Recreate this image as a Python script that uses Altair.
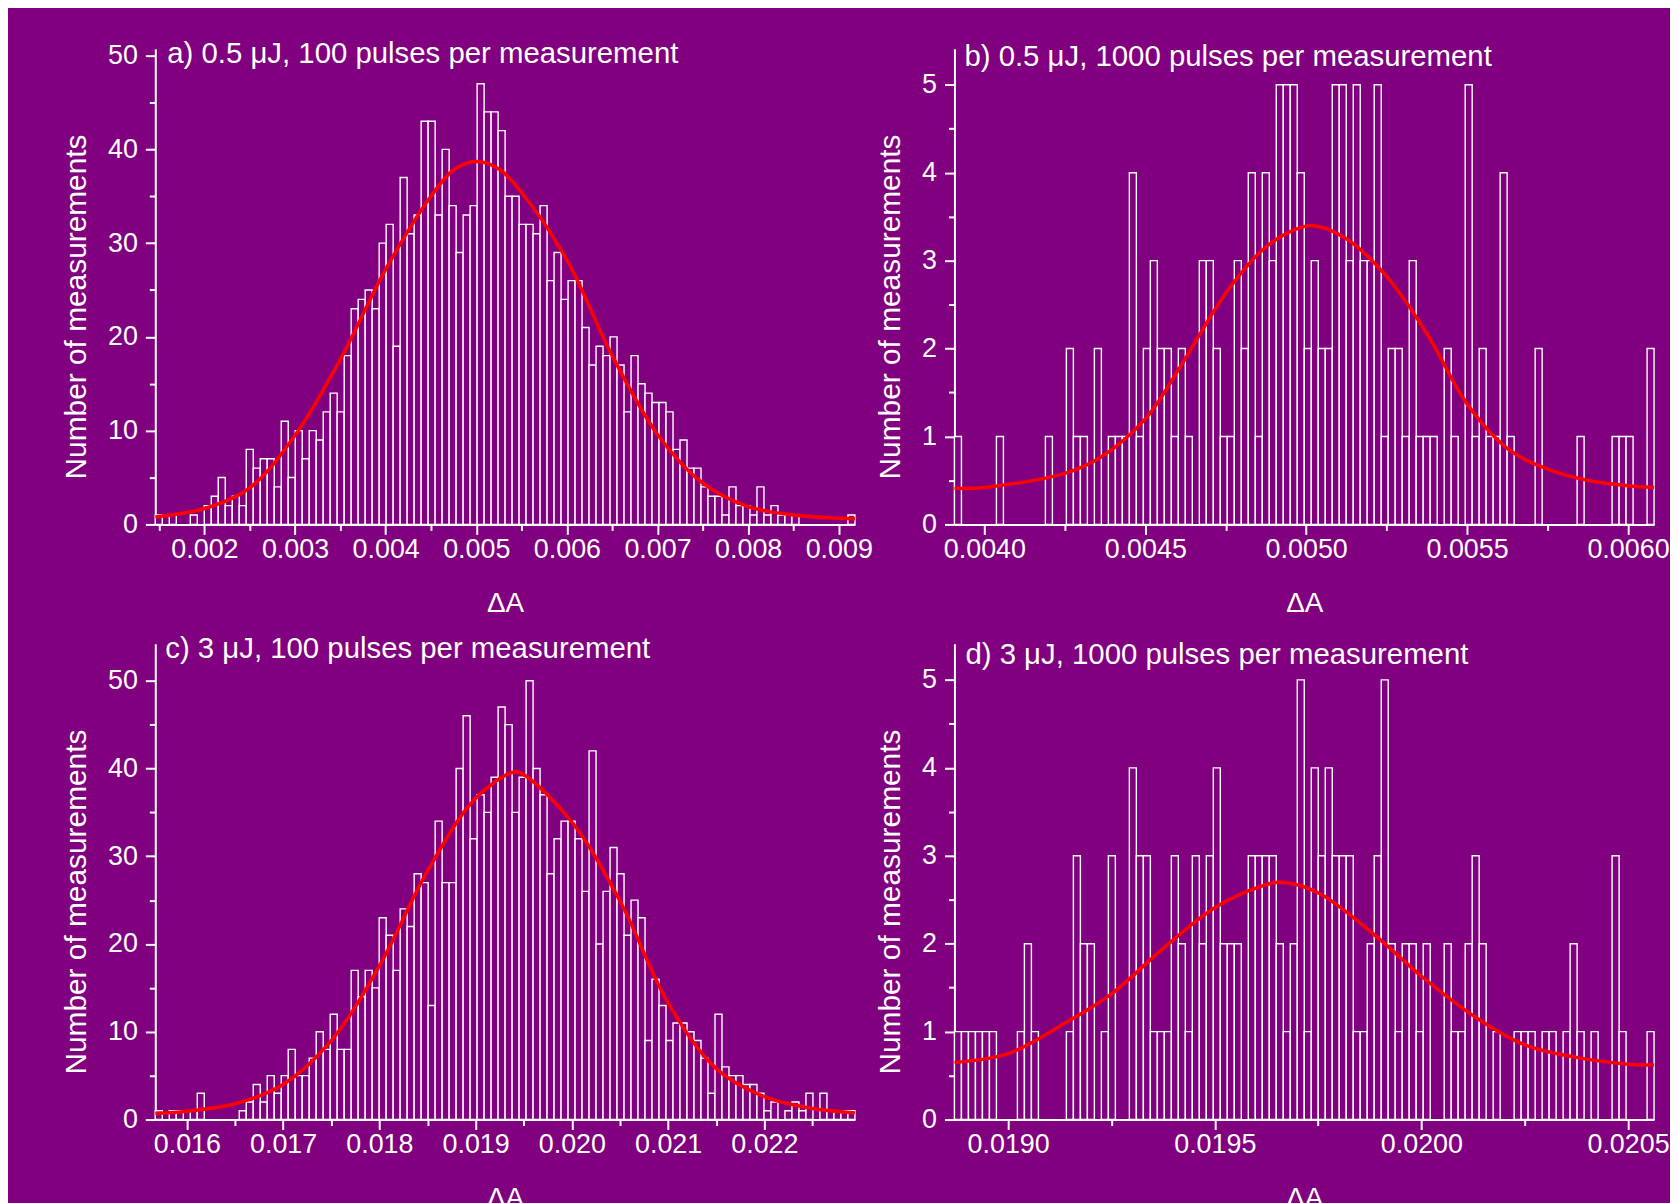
import altair as alt
import pandas as pd

FONT = "Liberation Sans"
BG = "#800080"
FG = "#ffffff"
RED = "#ff0000"

titles = [
    "a) 0.5 μJ, 100 pulses per measurement",
    "b) 0.5 μJ, 1000 pulses per measurement",
    "c) 3 μJ, 100 pulses per measurement",
    "d) 3 μJ, 1000 pulses per measurement",
]

# ---- panel a ----
a_bin_start = 0.001458
a_bin_width = 0.0000772
a_counts = [1, 0, 1, 0, 0, 1, 0, 2, 3, 5,
            2, 3, 2, 8, 6, 7, 7, 4, 11, 5,
            10, 7, 10, 9, 12, 14, 12, 18, 23, 24,
            25, 23, 30, 32, 19, 37, 31, 33, 43, 43,
            33, 40, 34, 29, 33, 34, 47, 44, 44, 42,
            35, 35, 32, 32, 31, 34, 26, 29, 24, 26,
            26, 21, 17, 19, 18, 20, 17, 12, 18, 15,
            14, 13, 13, 12, 8, 9, 6, 6, 4, 3,
            3, 1, 4, 2, 2, 1, 4, 1, 2, 1,
            1, 1, 0, 0, 0, 0, 0, 0, 0, 1]
a_fit_x = [0.001458, 0.002, 0.0025, 0.003, 0.0035, 0.004, 0.0045, 0.00475, 0.005,
           0.00525, 0.0055, 0.006, 0.0065, 0.007, 0.0075, 0.008, 0.0085, 0.009, 0.009178]
a_fit_y = [0.8, 1.7, 3.9, 9.5, 17.6, 27.2, 35.0, 37.8, 38.7,
           37.9, 35.4, 28.2, 18.0, 9.6, 4.4, 1.9, 1.0, 0.65, 0.6]
a_xdomain = [0.001458, 0.009178]
a_xticks = [0.0015, 0.002, 0.0025, 0.003, 0.0035, 0.004, 0.0045, 0.005,
            0.0055, 0.006, 0.0065, 0.007, 0.0075, 0.008, 0.0085, 0.009]
a_yticks = [0, 5, 10, 15, 20, 25, 30, 35, 40, 45, 50]
a_ytop = 50.74

# ---- panel b ----
b_bin_start = 0.003907
b_bin_width = 0.00002174
b_counts = [1, 0, 0, 0, 0, 0, 1, 0, 0, 0,
            0, 0, 0, 1, 0, 0, 2, 1, 1, 0,
            2, 0, 1, 1, 1, 4, 1, 2, 3, 2,
            2, 1, 2, 1, 0, 3, 3, 2, 1, 1,
            3, 2, 4, 1, 4, 3, 5, 5, 5, 4,
            2, 3, 2, 2, 5, 5, 3, 5, 3, 3,
            5, 1, 2, 2, 1, 3, 1, 1, 1, 0,
            2, 1, 0, 5, 1, 2, 1, 1, 4, 1,
            0, 0, 0, 2, 0, 0, 0, 0, 0, 1,
            0, 0, 0, 0, 1, 1, 1, 0, 0, 2]
b_fit_x = [0.003907, 0.0040, 0.00425, 0.00436, 0.0045, 0.00461, 0.00475, 0.00487, 0.00497,
           0.00502, 0.00512, 0.00525, 0.00538, 0.0055, 0.00563, 0.00575, 0.00589, 0.0060, 0.006081]
b_fit_y = [0.41, 0.42, 0.58, 0.76, 1.2, 1.8, 2.63, 3.14, 3.36,
           3.40, 3.26, 2.82, 2.14, 1.37, 0.85, 0.63, 0.49, 0.44, 0.42]
b_xdomain = [0.003907, 0.006081]
b_xticks = [0.004, 0.00425, 0.0045, 0.00475, 0.005, 0.00525, 0.0055, 0.00575, 0.006]
b_yticks = [0, 0.5, 1, 1.5, 2, 2.5, 3, 3.5, 4, 4.5, 5]
b_ytop = 5.41

# ---- panel c ----
c_bin_start = 0.015672
c_bin_width = 0.00007269
c_counts = [1, 0, 1, 1, 0, 1, 3, 0, 0, 0,
            0, 0, 1, 2, 4, 2, 5, 3, 5, 8,
            5, 5, 7, 10, 8, 12, 8, 8, 17, 14,
            17, 15, 23, 21, 17, 24, 22, 28, 27, 13,
            34, 27, 27, 40, 46, 32, 37, 35, 39, 47,
            45, 35, 39, 50, 40, 37, 28, 32, 34, 34,
            32, 26, 42, 20, 26, 31, 28, 21, 25, 23,
            9, 16, 13, 9, 11, 11, 10, 9, 7, 3,
            12, 6, 5, 5, 4, 4, 3, 1, 2, 0,
            1, 2, 1, 3, 0, 3, 1, 1, 1, 1]
c_fit_x = [0.015672, 0.016, 0.0165, 0.017, 0.0175, 0.018, 0.0185, 0.019, 0.0194,
           0.0195, 0.020, 0.0205, 0.021, 0.0215, 0.022, 0.0225, 0.022941]
c_fit_y = [0.68, 0.95, 1.8, 4.0, 9.0, 17.5, 28.3, 36.6, 39.6,
           39.3, 33.9, 24.9, 13.3, 5.8, 2.6, 1.25, 0.76]
c_xdomain = [0.015672, 0.022941]
c_xticks = [0.016, 0.0165, 0.017, 0.0175, 0.018, 0.0185, 0.019, 0.0195,
            0.020, 0.0205, 0.021, 0.0215, 0.022, 0.0225]
c_yticks = [0, 5, 10, 15, 20, 25, 30, 35, 40, 45, 50]
c_ytop = 54.2

# ---- panel d ----
d_bin_start = 0.01887
d_bin_width = 0.00001693
d_counts = [1, 1, 1, 1, 1, 1, 0, 0, 0, 1,
            2, 1, 0, 0, 0, 0, 1, 3, 2, 2,
            0, 1, 3, 0, 0, 4, 3, 3, 1, 1,
            1, 3, 2, 1, 3, 2, 3, 4, 2, 2,
            2, 0, 3, 3, 3, 3, 2, 1, 2, 5,
            1, 4, 3, 4, 3, 3, 3, 1, 1, 2,
            3, 5, 2, 1, 2, 2, 1, 2, 0, 0,
            2, 1, 1, 2, 3, 2, 0, 1, 0, 0,
            1, 1, 1, 0, 1, 1, 0, 1, 2, 1,
            0, 1, 0, 0, 3, 1, 0, 0, 0, 1]
d_fit_x = [0.01887, 0.0190, 0.019135, 0.01925, 0.019376, 0.0195, 0.019617, 0.01966,
           0.01975, 0.019889, 0.0200, 0.020129, 0.02025, 0.020371, 0.0205, 0.020563]
d_fit_y = [0.65, 0.75, 1.09, 1.43, 1.95, 2.41, 2.66, 2.70,
           2.58, 2.09, 1.63, 1.17, 0.85, 0.71, 0.63, 0.62]
d_xdomain = [0.01887, 0.020563]
d_xticks = [0.019, 0.01925, 0.0195, 0.01975, 0.020, 0.02025, 0.0205]
d_yticks = [0, 0.5, 1, 1.5, 2, 2.5, 3, 3.5, 4, 4.5, 5]
d_ytop = 5.41

PW, PH = 703, 478


def panel(title, bin_start, bin_width, counts, xdomain, xticks, xmult, xfmt,
          yticks, ymult, ytop, fit_x, fit_y, tdx, tdy):
    n = len(counts)
    hist = pd.DataFrame({
        "lo": [bin_start + i * bin_width for i in range(n)],
        "hi": [bin_start + (i + 1) * bin_width for i in range(n)],
        "count": counts,
    })
    hist = hist[hist["count"] > 0]
    fit = pd.DataFrame({"x": fit_x, "y": fit_y})

    xmajor = f"abs(datum.value*{xmult} - round(datum.value*{xmult})) < 0.01"
    ymajor = f"abs(datum.value/{ymult} - round(datum.value/{ymult})) < 0.01"
    xs = alt.Scale(domain=xdomain, nice=False, zero=False)
    ys = alt.Scale(domain=[0, ytop], nice=False)
    xaxis = alt.Axis(
        title="ΔA", values=xticks,
        labelExpr=f"({xmajor}) ? format(datum.value, '{xfmt}') : ''",
        tickSize={"condition": {"test": xmajor, "value": 10}, "value": 6},
        labelPadding=2, titlePadding=27, labelFlush=False, labelOverlap=False,
        grid=False, titleFontSize=28,
    )
    yaxis = alt.Axis(
        title="Number of measurements", values=yticks,
        labelExpr=f"({ymajor}) ? format(datum.value, 'd') : ''",
        tickSize={"condition": {"test": ymajor, "value": 10}, "value": 6},
        labelPadding=8, titlePadding=16, labelFlush=False, labelOverlap=False,
        grid=False, titleY=259, titleFontSize=30,
    )
    bars = alt.Chart(hist).mark_rect(
        fill=BG, stroke=FG, strokeWidth=1.4
    ).encode(
        x=alt.X("lo:Q", scale=xs, axis=xaxis),
        x2="hi:Q",
        y=alt.Y("count:Q", scale=ys, axis=yaxis),
        y2=alt.datum(0),
    )
    curve = alt.Chart(fit).mark_line(
        color=RED, strokeWidth=3.5, interpolate="catmull-rom"
    ).encode(
        x=alt.X("x:Q", scale=xs, axis=xaxis),
        y=alt.Y("y:Q", scale=ys, axis=yaxis),
    )
    label = alt.Chart(pd.DataFrame({"t": [title]})).mark_text(
        align="left", baseline="alphabetic", font=FONT, fontSize=29.5, color=FG
    ).encode(x=alt.value(tdx), y=alt.value(tdy), text="t:N")
    return alt.layer(bars, curve, label).properties(width=PW, height=PH)


pa = panel(titles[0], a_bin_start, a_bin_width, a_counts, a_xdomain, a_xticks, 1000, ".3f",
           a_yticks, 10, a_ytop, a_fit_x, a_fit_y, 12, 14)
pb = panel(titles[1], b_bin_start, b_bin_width, b_counts, b_xdomain, b_xticks, 2000, ".4f",
           b_yticks, 1, b_ytop, b_fit_x, b_fit_y, 10, 17)
pc = panel(titles[2], c_bin_start, c_bin_width, c_counts, c_xdomain, c_xticks, 1000, ".3f",
           c_yticks, 10, c_ytop, c_fit_x, c_fit_y, 10, 14)
pd_ = panel(titles[3], d_bin_start, d_bin_width, d_counts, d_xdomain, d_xticks, 2000, ".4f",
            d_yticks, 1, d_ytop, d_fit_x, d_fit_y, 11, 20)

chart = alt.concat(
    pa, pb, pc, pd_, columns=2, spacing={"row": 120, "column": 100}, bounds="flush"
).properties(
    padding={"left": 53, "top": 28, "right": 0, "bottom": 0}
).configure(
    background=BG, font=FONT
).configure_view(
    strokeWidth=0
).configure_axis(
    domainColor=FG, domainWidth=2, tickColor=FG, tickWidth=2,
    labelColor=FG, labelFont=FONT, labelFontSize=27,
    titleColor=FG, titleFont=FONT, titleFontWeight="normal",
)

chart.save("out.html", embed_options={"renderer": "svg", "actions": False})
